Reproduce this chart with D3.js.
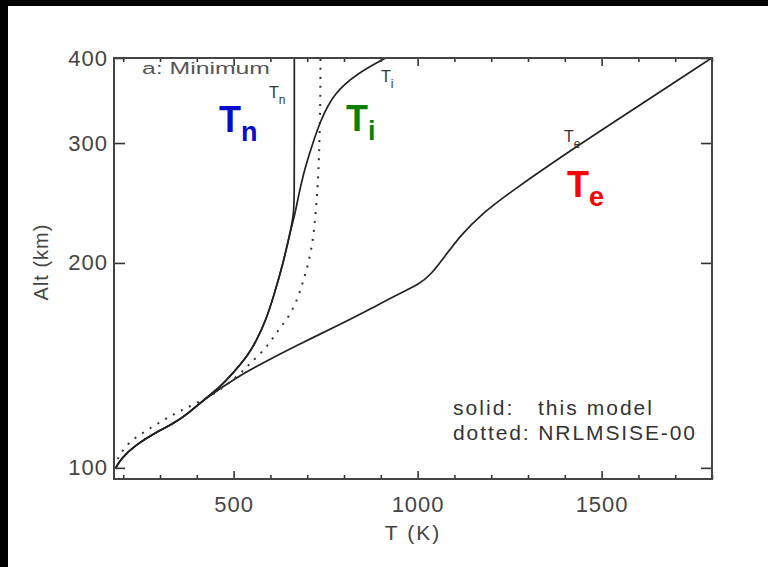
<!DOCTYPE html>
<html>
<head>
<meta charset="utf-8">
<script src="https://cdn.jsdelivr.net/npm/d3@7"></script>
<style>
  body { margin: 0; background: #000; }
  text { font-family: "Liberation Sans", Arial, sans-serif; }
</style>
</head>
<body>
<div id="chart-area"></div>
<script>
// temperature profiles, solar minimum (alt in km, T in K)

// solid Te
var teAlt = [100, 103, 108, 113.7, 116, 120, 127, 136, 142, 150.6, 163.3, 171, 180.7, 185.7, 192, 205.6, 219.9, 235.4, 253, 300, 347, 400];
var teT   = [180, 193, 232, 300, 335, 375, 428, 510, 573, 663, 799, 870, 954, 1001, 1036, 1077, 1118, 1172, 1246, 1445, 1625, 1799];

// solid Ti
var tiAlt = [100, 103, 108, 113.7, 116, 120, 127, 131, 138, 146, 154, 165, 178, 200, 223.5, 237.6, 247.6, 271, 293, 324, 355, 380, 400];
var tiT   = [180, 193, 232, 300, 335, 375, 428, 460, 500, 538, 563, 588, 608, 635, 655, 668, 674, 690, 709, 736, 772, 837, 913];

// solid Tn
var tnAlt = [100, 103, 108, 113.7, 116, 120, 127, 131, 138, 146, 154, 165, 178, 200, 223.5, 235, 250, 300, 400];
var tnT   = [180, 193, 232, 300, 335, 375, 428, 460, 500, 538, 563, 588, 608, 635, 655, 663, 665, 665, 665];

// dotted NRLMSISE-00 Tn
var msAlt = [103, 109, 116, 121.5, 127, 136, 142.6, 150.6, 159, 166, 178, 189, 200, 218, 237.6, 266.6, 347, 400];
var msT   = [185, 210, 292, 355, 437, 510, 546, 592, 619, 649, 676, 690, 704, 717, 723, 731, 736, 736];

var xMajor = [500, 1000, 1500];
var xMinor = [200, 300, 400, 600, 700, 800, 900, 1100, 1200, 1300, 1400, 1600, 1700, 1800];
var yTicks = [100, 200, 300, 400];

var W = 768, H = 567;
var pLeft = 114, pRight = 712, pTop = 58, pBottom = 479;

var svg = d3.select("#chart-area")
    .append("svg")
        .attr("width", W)
        .attr("height", H);

// black border on the left and top
svg.append("rect").attr("width", W).attr("height", H).attr("fill", "#000");
svg.append("rect")
    .attr("x", 8).attr("y", 6)
    .attr("width", W - 8).attr("height", H - 6)
    .attr("fill", "#fff");

var x = d3.scaleLinear().domain([175, 1800]).range([pLeft, pRight]);
var y = d3.scaleLog().domain([96.3, 400]).range([pBottom, pTop]);

function pairs(a, t) {
    return a.map(function(d, i) { return [t[i], d]; });
}

var line = d3.line()
    .x(function(d) { return x(d[0]); })
    .y(function(d) { return y(d[1]); })
    .curve(d3.curveBasis);

// clip so curves stop at the frame
svg.append("clipPath").attr("id", "clip")
    .append("rect")
    .attr("x", pLeft).attr("y", pTop)
    .attr("width", pRight - pLeft).attr("height", pBottom - pTop);

var curves = svg.append("g").attr("clip-path", "url(#clip)");

[pairs(teAlt, teT), pairs(tiAlt, tiT), pairs(tnAlt, tnT)].forEach(function(p) {
    curves.append("path")
        .attr("d", line(p))
        .attr("fill", "none")
        .attr("stroke", "#222")
        .attr("stroke-width", 1.7);
});

curves.append("path")
    .attr("d", line(pairs(msAlt, msT)))
    .attr("fill", "none")
    .attr("stroke", "#333")
    .attr("stroke-width", 2)
    .attr("stroke-dasharray", "2,7");

// axes, ticks point inward
function styleAxis(g) {
    g.select(".domain").remove();
    g.selectAll("line").attr("stroke", "#333").attr("stroke-width", 1.6);
    g.selectAll("text")
        .attr("fill", "#444")
        .attr("font-size", "22px")
        .attr("letter-spacing", "1px");
}

svg.append("g")
    .attr("transform", "translate(0," + pBottom + ")")
    .call(d3.axisBottom(x).tickValues(xMajor).tickSize(-8).tickPadding(17).tickFormat(d3.format("d")))
    .call(styleAxis);
svg.append("g")
    .attr("transform", "translate(0," + pBottom + ")")
    .call(d3.axisBottom(x).tickValues(xMinor).tickSize(-4).tickFormat(""))
    .call(styleAxis);
svg.append("g")
    .attr("transform", "translate(0," + pTop + ")")
    .call(d3.axisTop(x).tickValues(xMajor).tickSize(-8).tickFormat(""))
    .call(styleAxis);
svg.append("g")
    .attr("transform", "translate(0," + pTop + ")")
    .call(d3.axisTop(x).tickValues(xMinor).tickSize(-4).tickFormat(""))
    .call(styleAxis);

svg.append("g")
    .attr("transform", "translate(" + pLeft + ",0)")
    .call(d3.axisLeft(y).tickValues(yTicks).tickSize(-11).tickPadding(6).tickFormat(d3.format("d")))
    .call(styleAxis);
svg.append("g")
    .attr("transform", "translate(" + pRight + ",0)")
    .call(d3.axisRight(y).tickValues(yTicks).tickSize(-11).tickFormat(""))
    .call(styleAxis);

// frame
svg.append("rect")
    .attr("x", pLeft).attr("y", pTop)
    .attr("width", pRight - pLeft).attr("height", pBottom - pTop)
    .attr("fill", "none")
    .attr("stroke", "#444")
    .attr("stroke-width", 2);

// axis titles
svg.append("text")
    .attr("x", 413).attr("y", 540)
    .attr("text-anchor", "middle")
    .attr("font-size", "21px")
    .attr("letter-spacing", "2px")
    .attr("fill", "#444")
    .text("T (K)");

svg.append("text")
    .attr("transform", "translate(48,262) rotate(-90)")
    .attr("text-anchor", "middle")
    .attr("font-size", "20px")
    .attr("letter-spacing", "1px")
    .attr("fill", "#444")
    .text("Alt (km)");

// panel title and legend
svg.append("text")
    .attr("x", 142).attr("y", 74)
    .attr("font-size", "16px")
    .attr("textLength", 128)
    .attr("lengthAdjust", "spacingAndGlyphs")
    .attr("fill", "#555")
    .text("a: Minimum");

svg.append("text")
    .attr("x", 453).attr("y", 415)
    .attr("font-size", "21px")
    .attr("textLength", 199)
    .attr("lengthAdjust", "spacing")
    .attr("fill", "#333")
    .attr("xml:space", "preserve")
    .text("solid:   this model");

svg.append("text")
    .attr("x", 453).attr("y", 440)
    .attr("font-size", "21px")
    .attr("textLength", 242)
    .attr("lengthAdjust", "spacing")
    .attr("fill", "#333")
    .text("dotted: NRLMSISE-00");

// small curve labels
function smallLabel(px, py, sub) {
    var t = svg.append("text")
        .attr("x", px).attr("y", py)
        .attr("font-size", "16px")
        .attr("fill", "#333");
    t.append("tspan").text("T");
    t.append("tspan").attr("dy", 6).attr("font-size", "12px").text(sub);
}
smallLabel(269, 98, "n");
smallLabel(381, 82, "i");
smallLabel(564, 142, "e");

// big coloured labels
function bigLabel(px, py, sub, col) {
    var t = svg.append("text")
        .attr("x", px).attr("y", py)
        .attr("font-size", "36px")
        .attr("font-weight", "bold")
        .attr("fill", col);
    t.append("tspan").text("T");
    t.append("tspan").attr("dy", 9).attr("font-size", "27px").text(sub);
}
bigLabel(219, 132, "n", "#0a0acc");
bigLabel(346, 131, "i", "#078007");
bigLabel(567, 197, "e", "#ff0000");
</script>
</body>
</html>
